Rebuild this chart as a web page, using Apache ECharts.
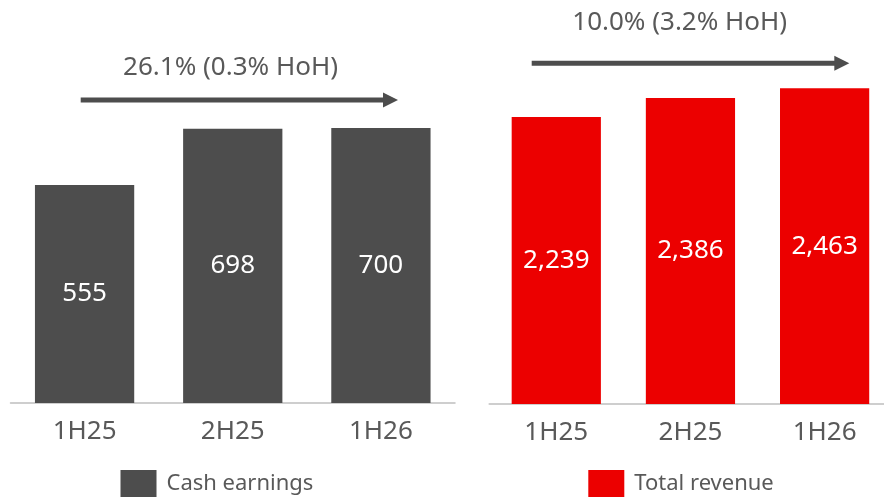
<!DOCTYPE html>
<html>
<head>
<meta charset="utf-8">
<style>
  html, body { margin: 0; padding: 0; background: #ffffff; }
  #chart { width: 884px; height: 500px; }
</style>
<script src="https://cdn.jsdelivr.net/npm/echarts@6/dist/echarts.min.js"></script>
</head>
<body>
<div id="chart"></div>
<script>
// Half-year periods shown on both panels
const categories = ['1H25', '2H25', '1H26'];
// Cash earnings ($m)
const cashEarnings = [555, 698, 700];
// Total revenue ($m)
const totalRevenue = [2239, 2386, 2463];
// Growth callouts above each panel
const growthLabels = ['26.1% (0.3% HoH)', '10.0% (3.2% HoH)'];
const seriesNames = ['Cash earnings', 'Total revenue'];

const FONT = '"Noto Sans", "Open Sans", sans-serif';
const TEXT_GREY = '#595959';
const DARK = '#4d4d4d';
const RED = '#ec0000';

const chart = echarts.init(document.getElementById('chart'), null, { renderer: 'canvas' });

const fmt = p => Number(p.value).toLocaleString('en-US');

function xAxisFor(gridIndex) {
  return {
    type: 'category',
    gridIndex,
    data: categories,
    axisLine: { show: true, lineStyle: { color: '#bfbfbf', width: 1.5 } },
    axisTick: { show: false },
    axisLabel: { color: TEXT_GREY, fontSize: 26, fontFamily: FONT, margin: 16 }
  };
}

// Arrow annotation: shaft plus triangular head
function arrow(x1, x2, y) {
  return [
    { type: 'line', shape: { x1, y1: y, x2: x2 - 12, y2: y },
      style: { stroke: DARK, lineWidth: 5 } },
    { type: 'polygon', shape: { points: [[x2 - 15, y - 7.5], [x2, y], [x2 - 15, y + 7.5]] },
      style: { fill: DARK } }
  ];
}

function callout(text, x, y) {
  return {
    type: 'text',
    style: { text, x, y, align: 'center', verticalAlign: 'middle',
             font: '26px ' + FONT, fill: TEXT_GREY }
  };
}

function legendFor(name, left) {
  return {
    data: [name], left, top: 470, padding: 0,
    itemWidth: 36, itemHeight: 27, icon: 'rect',
    textStyle: { color: TEXT_GREY, fontSize: 22, fontFamily: FONT, padding: [3, 0, 0, 5] }
  };
}

function labelStyle() {
  return { show: true, position: 'inside', color: '#ffffff', fontSize: 26,
           fontFamily: FONT, formatter: fmt };
}

chart.setOption({
  animation: false,
  backgroundColor: '#ffffff',
  grid: [
    { left: 10.5, width: 444.5, top: 49.3, bottom: 97, outerBoundsMode: 'none' },
    // the revenue axis runs past the right edge of the canvas
    { left: 489.2, width: 402.5, top: 19.4, bottom: 96, outerBoundsMode: 'none' }
  ],
  xAxis: [xAxisFor(0), xAxisFor(1)],
  yAxis: [
    { type: 'value', gridIndex: 0, min: 0, max: 900, show: false },
    { type: 'value', gridIndex: 1, min: 0, max: 3000, show: false }
  ],
  legend: [legendFor(seriesNames[0], 120.5), legendFor(seriesNames[1], 588.3)],
  series: [
    {
      name: seriesNames[0], type: 'bar', xAxisIndex: 0, yAxisIndex: 0,
      data: cashEarnings, barWidth: '67%',
      itemStyle: { color: DARK },
      label: labelStyle()
    },
    {
      name: seriesNames[1], type: 'bar', xAxisIndex: 1, yAxisIndex: 1,
      data: totalRevenue, barWidth: '66.5%',
      itemStyle: { color: RED },
      label: labelStyle()
    }
  ],
  graphic: [
    ...arrow(80.7, 398, 100),
    callout(growthLabels[0], 230.5, 68),
    ...arrow(531.7, 849.3, 63.3),
    callout(growthLabels[1], 679.7, 22.7)
  ]
});
</script>
</body>
</html>
